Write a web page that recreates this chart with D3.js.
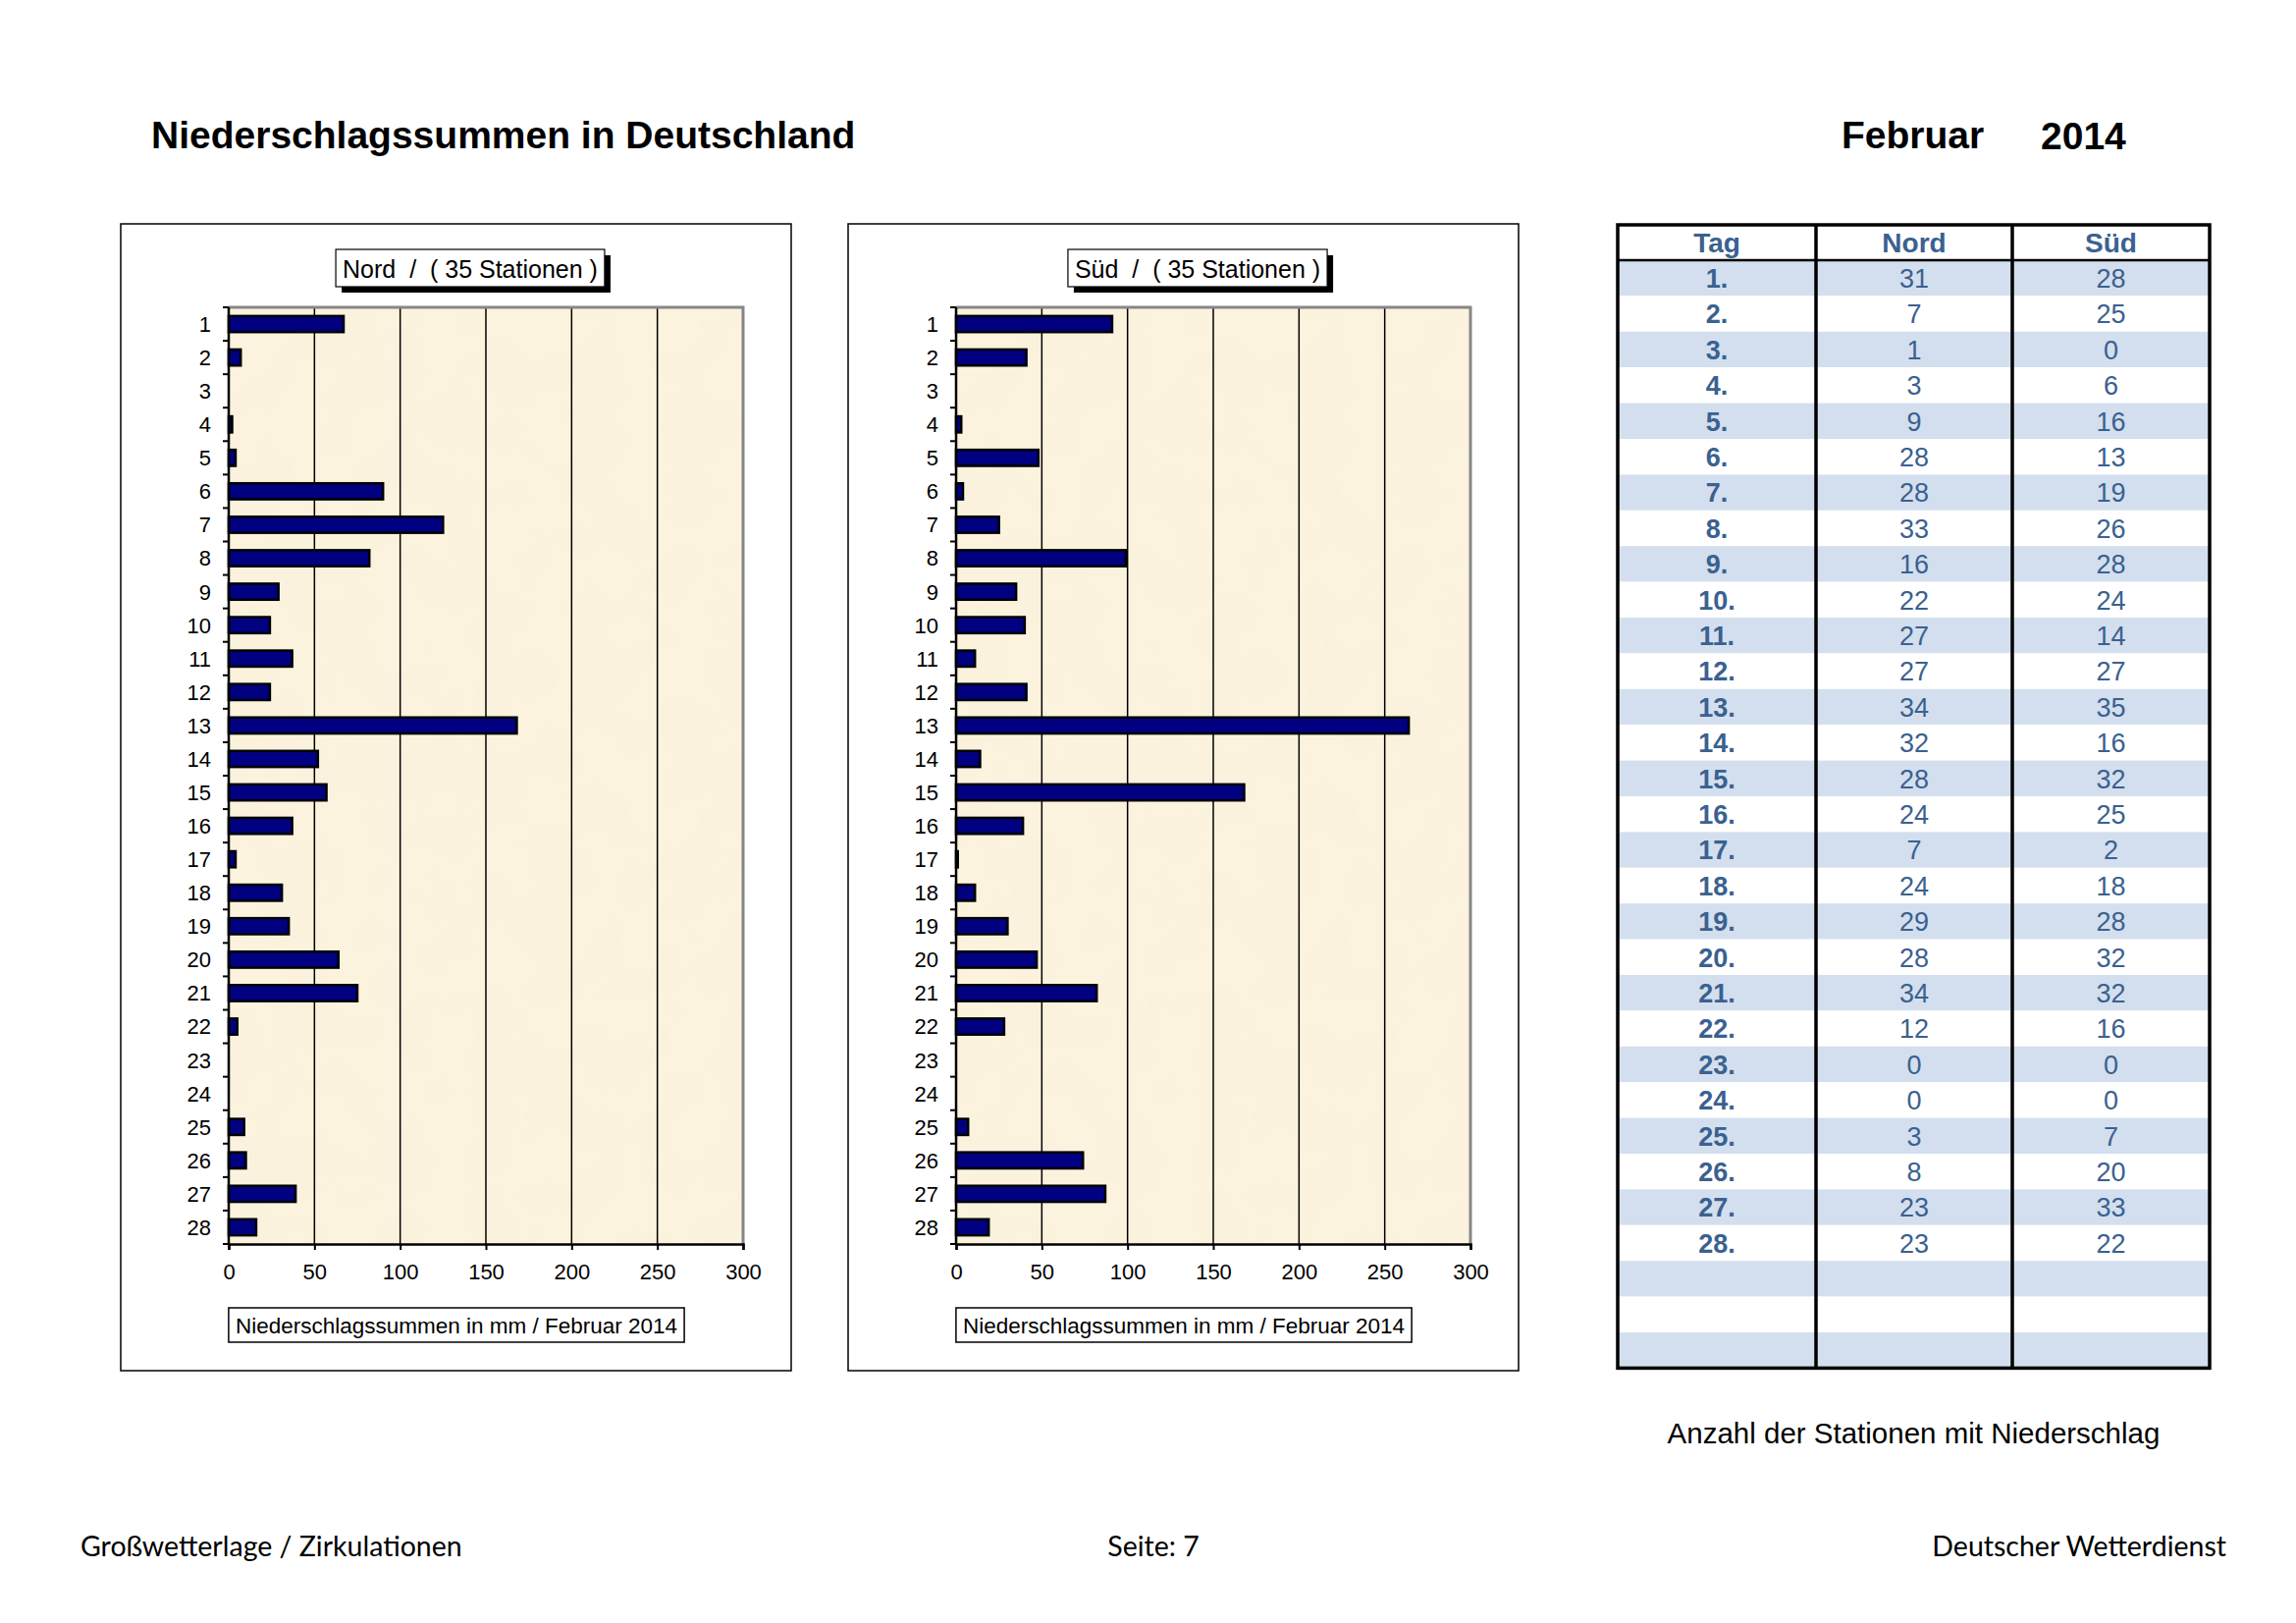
<!DOCTYPE html>
<html>
<head>
<meta charset="utf-8">
<script src="https://cdn.jsdelivr.net/npm/d3@7"></script>
<style>
  body { margin: 0; background: #fff; }
  svg { display: block; font-family: "Liberation Sans", Arial, sans-serif; }
</style>
</head>
<body>
<svg id="page" width="2339" height="1653"></svg>
<script>
// Tage im Februar 2014
const days = d3.range(1, 29);

const sumNord = [67, 7, 0, 2, 4, 90, 125, 82, 29, 24, 37, 24, 168, 52, 57, 37, 4, 31, 35, 64, 75, 5, 0, 0, 9, 10, 39, 16];
const sumSued = [91, 41, 0, 3, 48, 4, 25, 99, 35, 40, 11, 41, 264, 14, 168, 39, 1, 11, 30, 47, 82, 28, 0, 0, 7, 74, 87, 19];

// Anzahl der Stationen mit Niederschlag
const countNord = [31, 7, 1, 3, 9, 28, 28, 33, 16, 22, 27, 27, 34, 32, 28, 24, 7, 24, 29, 28, 34, 12, 0, 0, 3, 8, 23, 23];
const countSued = [28, 25, 0, 6, 16, 13, 19, 26, 28, 24, 14, 27, 35, 16, 32, 25, 2, 18, 28, 32, 32, 16, 0, 0, 7, 20, 33, 22];

const xTicks = [0, 50, 100, 150, 200, 250, 300];
const tableHeader = ["Tag", "Nord", "Süd"];
const emptyRows = 3;

const svg = d3.select("#page");

// texture for the plot background
const defs = svg.append("defs");
const filt = defs.append("filter").attr("id", "paper").attr("x", 0).attr("y", 0).attr("width", 1).attr("height", 1);
filt.append("feTurbulence").attr("type", "fractalNoise").attr("baseFrequency", 0.02).attr("numOctaves", 3).attr("seed", 4).attr("result", "n");
filt.append("feColorMatrix").attr("in", "n").attr("type", "matrix")
  .attr("values", "0 0 0 0 0.93  0 0 0 0 0.86  0 0 0 0 0.74  0 0 0 0.45 -0.12").attr("result", "c");
filt.append("feComposite").attr("in", "c").attr("in2", "SourceGraphic").attr("operator", "atop");

// page header
svg.append("text").attr("x", 154).attr("y", 151)
  .attr("font-size", 39).attr("font-weight", "bold")
  .text("Niederschlagssummen in Deutschland");
svg.append("text").attr("x", 1876).attr("y", 151)
  .attr("font-size", 39).attr("font-weight", "bold").text("Februar");
svg.append("text").attr("x", 2079).attr("y", 152)
  .attr("font-size", 39).attr("font-weight", "bold").text("2014");

function drawChart(left, values, title) {
  const g = svg.append("g").attr("transform", `translate(${left},228)`);
  const frameW = 683, frameH = 1168;

  g.append("rect").attr("width", frameW).attr("height", frameH)
    .attr("fill", "#fff").attr("stroke", "#000").attr("stroke-width", 1.5);

  const px = 110, py = 85, pw = 524, ph = 954;

  const x = d3.scaleLinear().domain([0, 300]).range([0, pw]);
  const y = d3.scaleBand().domain(days).range([0, ph]).paddingInner(0.52).paddingOuter(0.26);

  const plot = g.append("g").attr("transform", `translate(${px},${py})`);

  plot.append("rect").attr("width", pw).attr("height", ph).attr("fill", "#FCF3DE");
  plot.append("rect").attr("width", pw).attr("height", ph).attr("fill", "#FCF3DE")
    .attr("filter", "url(#paper)");

  // grid lines
  plot.selectAll("line.grid").data(xTicks.slice(1, -1)).join("line")
    .attr("class", "grid")
    .attr("x1", d => x(d)).attr("x2", d => x(d))
    .attr("y1", 0).attr("y2", ph)
    .attr("stroke", "#000").attr("stroke-width", 1.5);

  // plot border (top / right grey)
  plot.append("path")
    .attr("d", `M0,0H${pw}V${ph}`)
    .attr("fill", "none").attr("stroke", "#868686").attr("stroke-width", 3);

  // bars
  plot.selectAll("rect.bar").data(days.filter((d, i) => values[i] > 0)).join("rect")
    .attr("class", "bar")
    .attr("x", 0)
    .attr("y", d => y(d))
    .attr("width", d => x(values[d - 1]))
    .attr("height", y.bandwidth())
    .attr("fill", "#000080")
    .attr("stroke", "#000").attr("stroke-width", 2.5);

  // left axis: ticks between categories
  const step = y.step();
  const yEdges = d3.range(0, 29).map(i => i * step);
  plot.selectAll("line.ytick").data(yEdges).join("line")
    .attr("class", "ytick")
    .attr("x1", -6).attr("x2", 0)
    .attr("y1", d => d).attr("y2", d => d)
    .attr("stroke", "#000").attr("stroke-width", 2);
  plot.append("line").attr("x1", 0).attr("x2", 0).attr("y1", 0).attr("y2", ph)
    .attr("stroke", "#000").attr("stroke-width", 2.5);

  plot.selectAll("text.ylab").data(days).join("text")
    .attr("class", "ylab")
    .attr("x", -18)
    .attr("y", (d, i) => i * step + step / 2)
    .attr("dy", "0.36em")
    .attr("text-anchor", "end")
    .attr("font-size", 22)
    .text(d => d);

  // bottom axis
  const xAxis = d3.axisBottom(x).tickValues(xTicks).tickSize(6).tickPadding(14);
  const ax = plot.append("g").attr("transform", `translate(0,${ph})`).call(xAxis);
  ax.select(".domain").attr("stroke", "#000").attr("stroke-width", 2.5);
  ax.selectAll(".tick line").attr("stroke", "#000").attr("stroke-width", 2);
  ax.selectAll(".tick text").attr("font-size", 22).attr("fill", "#000")
    .attr("font-family", "'Liberation Sans', Arial, sans-serif");

  // title box with shadow
  const tg = g.append("g");
  const tt = tg.append("text").attr("x", 356).attr("y", 55)
    .attr("text-anchor", "middle").attr("font-size", 25)
    .attr("xml:space", "preserve")
    .text(title);
  const tb = tt.node().getBBox();
  const bx = tb.x - 7, by = 26, bw = tb.width + 14, bh = 38;
  tg.insert("rect", "text").attr("x", bx + 6).attr("y", by + 6).attr("width", bw).attr("height", bh).attr("fill", "#000");
  tg.insert("rect", "text").attr("x", bx).attr("y", by).attr("width", bw).attr("height", bh)
    .attr("fill", "#fff").attr("stroke", "#000").attr("stroke-width", 1.2);

  // axis title box
  const ag = g.append("g");
  const at = ag.append("text").attr("x", 342).attr("y", 1130)
    .attr("text-anchor", "middle").attr("font-size", 22.5)
    .text("Niederschlagssummen in mm / Februar 2014");
  const ab = at.node().getBBox();
  ag.insert("rect", "text").attr("x", ab.x - 7).attr("y", 1104).attr("width", ab.width + 14).attr("height", 35)
    .attr("fill", "#fff").attr("stroke", "#000").attr("stroke-width", 1.5);
}

drawChart(123, sumNord, "Nord  /  ( 35 Stationen )");
drawChart(864, sumSued, "Süd  /  ( 35 Stationen )");

// table
const colX = [1648, 1850, 2050, 2251];
const tTop = 229, headH = 36, rowH = 36.4;
const textBlue = "#3A6190";
const rows = days.map((d, i) => [d + ".", countNord[i], countSued[i]])
  .concat(d3.range(emptyRows).map(() => ["", "", ""]));

const tbl = svg.append("g");
tbl.append("rect").attr("x", colX[0]).attr("y", tTop).attr("width", colX[3] - colX[0])
  .attr("height", headH + rows.length * rowH).attr("fill", "#fff");

tbl.selectAll("rect.row").data(rows).join("rect")
  .attr("class", "row")
  .attr("x", colX[0]).attr("y", (d, i) => tTop + headH + i * rowH)
  .attr("width", colX[3] - colX[0]).attr("height", rowH)
  .attr("fill", (d, i) => i % 2 === 0 ? "#D3DFEE" : "#fff");

tbl.selectAll("text.head").data(tableHeader).join("text")
  .attr("class", "head")
  .attr("x", (d, i) => (colX[i] + colX[i + 1]) / 2)
  .attr("y", tTop + headH / 2)
  .attr("dy", "0.36em")
  .attr("text-anchor", "middle")
  .attr("font-size", 28).attr("font-weight", "bold").attr("fill", textBlue)
  .text(d => d);

const cells = tbl.selectAll("g.rowtext").data(rows).join("g").attr("class", "rowtext");
cells.selectAll("text").data(d => d).join("text")
  .attr("x", (d, i) => (colX[i] + colX[i + 1]) / 2)
  .attr("y", function () {
    const r = rows.indexOf(d3.select(this.parentNode).datum());
    return tTop + headH + r * rowH + rowH / 2;
  })
  .attr("dy", "0.36em")
  .attr("text-anchor", "middle")
  .attr("font-size", 27)
  .attr("font-weight", (d, i) => i === 0 ? "bold" : "normal")
  .attr("fill", textBlue)
  .text(d => d);

const tBottom = tTop + headH + rows.length * rowH;
tbl.append("line").attr("x1", colX[0]).attr("x2", colX[3]).attr("y1", tTop + headH).attr("y2", tTop + headH)
  .attr("stroke", "#000").attr("stroke-width", 2.5);
tbl.selectAll("line.col").data(colX.slice(1, 3)).join("line")
  .attr("class", "col")
  .attr("x1", d => d).attr("x2", d => d).attr("y1", tTop).attr("y2", tBottom)
  .attr("stroke", "#000").attr("stroke-width", 3.5);
tbl.append("rect").attr("x", colX[0]).attr("y", tTop).attr("width", colX[3] - colX[0]).attr("height", tBottom - tTop)
  .attr("fill", "none").attr("stroke", "#000").attr("stroke-width", 3.5);

svg.append("text").attr("x", (colX[0] + colX[3]) / 2).attr("y", 1470)
  .attr("text-anchor", "middle").attr("font-size", 29.5)
  .text("Anzahl der Stationen mit Niederschlag");

// footer
const foot = svg.append("g").attr("font-family", "Lato, 'Open Sans', sans-serif").attr("font-size", 28.5);
foot.append("text").attr("x", 82).attr("y", 1585).text("Großwetterlage / Zirkulationen");
foot.append("text").attr("x", 1175).attr("y", 1585).attr("text-anchor", "middle").text("Seite: 7");
foot.append("text").attr("x", 2268).attr("y", 1585).attr("text-anchor", "end").text("Deutscher Wetterdienst");
</script>
</body>
</html>
